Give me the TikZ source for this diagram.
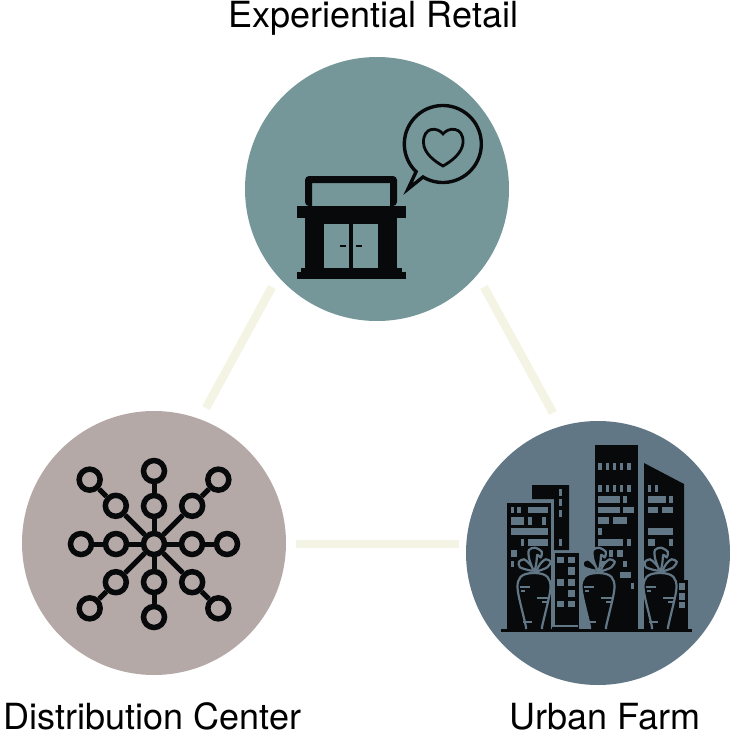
\documentclass[tikz,border=0pt]{standalone}
\usepackage{fontspec}
\setmainfont{TeX Gyre Heros}
\definecolor{retailfill}{HTML}{769799}
\definecolor{distfill}{HTML}{B5A9A8}
\definecolor{farmfill}{HTML}{627786}
\definecolor{linkcream}{HTML}{F4F4E4}
\definecolor{iconblack}{HTML}{08090B}
\tikzset{
    hub/.style={circle,minimum size=264pt,inner sep=0pt},
    caption/.style={font=\fontsize{36}{40}\selectfont,inner sep=0pt,text=black},
    link/.style={draw=linkcream,line width=8.5pt},
    spoke/.style={circle,draw=iconblack,line width=5.5pt,minimum size=21pt,inner sep=0pt},
    spokeline/.style={draw=iconblack,line width=5pt},
    carrotline/.style={draw=farmfill,line width=2.2pt},
    gap/.style={fill=farmfill},
    carrot/.pic={
        \path[fill=iconblack] (-8,0) -- (-8,-2) .. controls (-12,-20) and (-16.5,-35) .. (-16.5,-42)
            .. controls (-16.5,-50) and (-14,-56) .. (0,-56)
            .. controls (14,-56) and (16.5,-50) .. (16.5,-42)
            .. controls (16.5,-35) and (12,-20) .. (8,-2) -- (8,0) -- cycle;
        \draw[carrotline] (-8,0) -- (-8,-2) .. controls (-12,-20) and (-16.5,-35) .. (-16.5,-42)
            .. controls (-16.5,-50) and (-14,-56) .. (0,-56)
            .. controls (14,-56) and (16.5,-50) .. (16.5,-42)
            .. controls (16.5,-35) and (12,-20) .. (8,-2) -- (8,0);
        \draw[carrotline,fill=iconblack] plot[smooth cycle] coordinates {(-2.3,-58.3) (-14,-61.7) (-15,-67.3) (-10,-69.7) (-5,-65.7) (-1,-60.7)};
        \draw[carrotline,fill=iconblack] plot[smooth cycle] coordinates {(2.3,-58) (6.7,-65.7) (11.7,-69.7) (16.7,-67.3) (13.3,-61.7) (5,-58.3)};
        \draw[carrotline,fill=iconblack] plot[smooth cycle] coordinates {(0,-58) (-5,-70.7) (-5,-79) (1,-81.3) (7.7,-77.3) (6.7,-71.7) (3.3,-74) (2.3,-65.7)};
        \draw[carrotline] (-14,-42) -- (-4,-42);
        \draw[carrotline] (-13,-38) -- (-9,-38);
        \draw[carrotline] (3,-31) -- (14,-31);
        \draw[carrotline] (8,-27) -- (13,-27);
        \draw[carrotline] (-11,-7) -- (-2,-7);
    },
}
\begin{document}
\begin{tikzpicture}[x=1pt,y=-1pt]
    \useasboundingbox (0,0) rectangle (730,747);
    \node[hub,fill=retailfill] (retail) at (377,189) {};
    \node[hub,fill=distfill] (dist) at (154,543) {};
    \node[hub,fill=farmfill] (farm) at (598,553) {};
    \node[caption] (retaillabel) at (373.5,18) {Experiential Retail};
    \node[caption] (distlabel) at (152.5,716) {Distribution Center};
    \node[caption] (farmlabel) at (605,717) {Urban Farm};
    \coordinate (a1) at (272,287);
    \coordinate (a2) at (206,408);
    \coordinate (b1) at (484,287);
    \coordinate (b2) at (553,413);
    \coordinate (c1) at (296,544);
    \coordinate (c2) at (459,544);
    \draw[link] (a1) -- (a2);
    \draw[link] (b1) -- (b2);
    \draw[link] (c1) -- (c2);
    % shop
    \fill[iconblack,even odd rule] [rounded corners=4pt] (305,206) -- (305,176) -- (397,176) -- (397,206) -- cycle
        [sharp corners] (312,183) rectangle (390,206);
    \fill[iconblack] (297,206) rectangle (406,218);
    \fill[iconblack] (305,218) rectangle (397,268);
    \fill[iconblack] (301,268) rectangle (402,272);
    \fill[iconblack] (297,272) rectangle (406,279);
    \fill[retailfill] (324,224) rectangle (349,268);
    \fill[retailfill] (353,224) rectangle (378,268);
    \fill[iconblack] (340,244.5) rectangle (346,246.8);
    \fill[iconblack] (356,244.5) rectangle (362,246.8);
    % bubble
    \draw[iconblack,line width=3.4pt] (423,177) arc[start angle=121,end angle=-226,radius=38.5] -- (408,189) -- cycle;
    \draw[iconblack,line width=2.8pt] (443,134) .. controls (448,127) and (464,126) .. (463,143)
        .. controls (462,153) and (452,161) .. (443,166)
        .. controls (434,161) and (424,153) .. (423.5,143)
        .. controls (423,126) and (438,127) .. (443,134) -- cycle;
    % spokes
    \node[spoke] (s0) at (154,544) {};
    \foreach \ang/\near/\far in {0/38/73,45/54/91,90/38/73,135/54/91,180/38/73,225/54/91,270/38/73,315/54/91} {
        \node[spoke] (n\ang) at ([shift={(\ang:\near)}]154,544) {};
        \node[spoke] (m\ang) at ([shift={(\ang:\far)}]154,544) {};
        \draw[spokeline] (s0) -- (n\ang);
        \draw[spokeline] (n\ang) -- (m\ang);
    }
    % city
    \fill[iconblack] (532,485) -- (569,485) -- (569,550) -- (554,550) -- (554,499) -- (532,499) -- cycle;
    \fill[iconblack] (507,503) rectangle (551,629);
    \fill[iconblack] (552,553) rectangle (579,629);
    \fill[gap] (552,553) rectangle (555,627);
    \fill[gap] (552,625) rectangle (578,627);
    \fill[iconblack] (595,445) rectangle (638,629);
    \fill[iconblack] (644,463) -- (684,484) -- (684,629) -- (644,629) -- cycle;
    \fill[iconblack] (677,580) rectangle (688,629);
    \fill[iconblack] (501,629) rectangle (692,632);
    % windows
    \foreach \xa/\ya/\xb/\yb in {
        511/507/514/513, 517/507/521/513, 528/507/548/513,
        511/517/524/525, 528/517/532/525, 542/517/546/525,
        511/528/548/535, 521/539/524/546, 528/539/548/546,
        511/550/517/557, 511/561/514/567,
        559/489/562/496, 559/499/562/506, 559/510/562/517, 559/539/562/546,
        557/557/564/563, 568/557/575/563, 568/567/575/575, 557/579/564/586, 568/579/575/586,
        568/590/575/597, 557/601/564/607, 568/601/575/607,
        598/463/602/470, 606/463/609/470, 613/463/616/470, 620/463/623/470, 627/463/631/470,
        598/485/602/492, 606/485/609/492, 613/485/616/492, 620/485/623/492, 627/485/631/492,
        598/496/620/503, 623/496/627/503,
        598/507/620/513, 623/507/634/513,
        598/517/609/524, 613/517/627/524,
        598/528/602/535,
        598/539/623/546, 627/539/631/546,
        609/550/613/557, 617/550/623/557, 598/561/610/567, 623/561/627/567,
        620/572/631/578, 631/583/634/589,
        648/485/651/492, 655/485/658/492,
        648/496/666/503, 669/496/673/503,
        648/507/658/513, 662/507/673/513,
        648/528/673/535,
        648/539/655/546, 669/539/673/546,
        679/583/685/590, 679/593/685/600, 679/602/685/608} {
        \fill[gap] (\xa,\ya) rectangle (\xb,\yb);
    }
    \pic at (534,629) {carrot};
    \pic at (598,629) {carrot};
    \pic at (660,629) {carrot};
\end{tikzpicture}
\end{document}
